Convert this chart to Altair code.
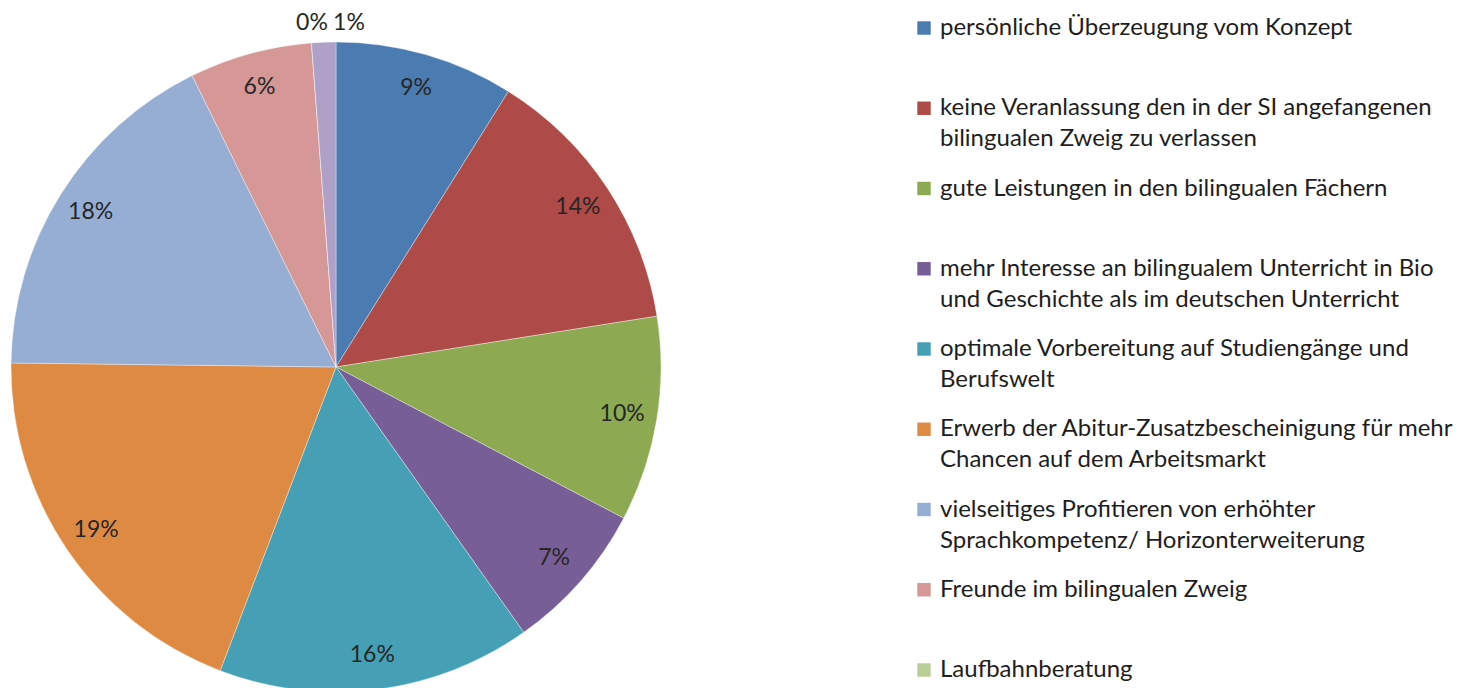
import altair as alt
import pandas as pd

# Slice data (percent), clockwise from 12 o'clock
categories = [
    "persönliche Überzeugung vom Konzept",
    "keine Veranlassung den in der SI angefangenen bilingualen Zweig zu verlassen",
    "gute Leistungen in den bilingualen Fächern",
    "mehr Interesse an bilingualem Unterricht in Bio und Geschichte als im deutschen Unterricht",
    "optimale Vorbereitung auf Studiengänge und Berufswelt",
    "Erwerb der Abitur-Zusatzbescheinigung für mehr Chancen auf dem Arbeitsmarkt",
    "vielseitiges Profitieren von erhöhter Sprachkompetenz/ Horizonterweiterung",
    "Freunde im bilingualen Zweig",
    "Laufbahnberatung",
    "sonstige",
]
values = [8.9, 13.6, 10.2, 7.5, 15.6, 19.4, 17.5, 6.1, 0.0, 1.2]
pct_labels = ["9%", "14%", "10%", "7%", "16%", "19%", "18%", "6%", "0%", "1%"]
colors = ["#4A7BB1", "#AE4A47", "#8DAA53", "#785E97", "#459FB5",
          "#DE8A42", "#97AED4", "#D59896", "#BACF98", "#AFA0C8"]

# Legend text as shown (first nine categories; wrapped lines)
legend_labels = [
    "persönliche Überzeugung vom Konzept",
    "keine Veranlassung den in der SI angefangenen\nbilingualen Zweig zu verlassen",
    "gute Leistungen in den bilingualen Fächern",
    "mehr Interesse an bilingualem Unterricht in Bio\nund Geschichte als im deutschen Unterricht",
    "optimale Vorbereitung auf Studiengänge und\nBerufswelt",
    "Erwerb der Abitur-Zusatzbescheinigung für mehr\nChancen auf dem Arbeitsmarkt",
    "vielseitiges Profitieren von erhöhter\nSprachkompetenz/ Horizonterweiterung",
    "Freunde im bilingualen Zweig",
    "Laufbahnberatung",
]

pie_df = pd.DataFrame({
    "cat": categories,
    "value": values,
    "label": pct_labels,
    "idx": list(range(len(categories))),
})
leg_df = pd.DataFrame({
    "cat": categories[:len(legend_labels)],
    "text": legend_labels,
    "idx": list(range(len(legend_labels))),
})

FONT = "Lato"
CX, CY = 328, 359
color_enc = alt.Color("cat:N", scale=alt.Scale(domain=categories, range=colors), legend=None)
theta_enc = alt.Theta("value:Q", stack=True)
order_enc = alt.Order("idx:Q")

base = alt.Chart(pie_df).encode(
    theta=theta_enc, order=order_enc,
    x=alt.value(CX), y=alt.value(CY),
)

pie = base.mark_arc(radius=325, stroke="#ffffff", strokeWidth=0.6, strokeOpacity=0.6).encode(color=color_enc)

inner = base.mark_text(radius=290, font=FONT, fontSize=23, color="#262626").encode(
    text="label:N"
).transform_filter(alt.datum.value >= 2)

lab1 = base.mark_text(radius=344, font=FONT, fontSize=23, color="#262626").encode(
    text="label:N"
).transform_filter(alt.datum.label == "1%")

lab0 = base.mark_text(radius=344, dx=-24, font=FONT, fontSize=23, color="#262626").encode(
    text="label:N"
).transform_filter(alt.datum.label == "0%")

ypos = alt.Y("idx:Q", scale=alt.Scale(domain=[0, 8], range=[20, 662]), axis=None)

leg_sq = alt.Chart(leg_df).mark_square(size=180, opacity=1).encode(
    x=alt.value(916), y=ypos, color=color_enc,
)
leg_tx = alt.Chart(leg_df).mark_text(
    align="left", baseline="top", dy=-12, lineBreak="\n", lineHeight=31,
    font=FONT, fontSize=24, color="#1e1e1e",
).encode(x=alt.value(932), y=ypos, text="text:N")

chart = alt.layer(pie, inner, lab1, lab0, leg_sq, leg_tx).properties(
    width=1467, height=680,
    autosize=alt.AutoSizeParams(type="none"),
    padding=0,
).configure_view(stroke=None)

chart.save("out.html", embed_options={"renderer": "svg", "actions": False})
